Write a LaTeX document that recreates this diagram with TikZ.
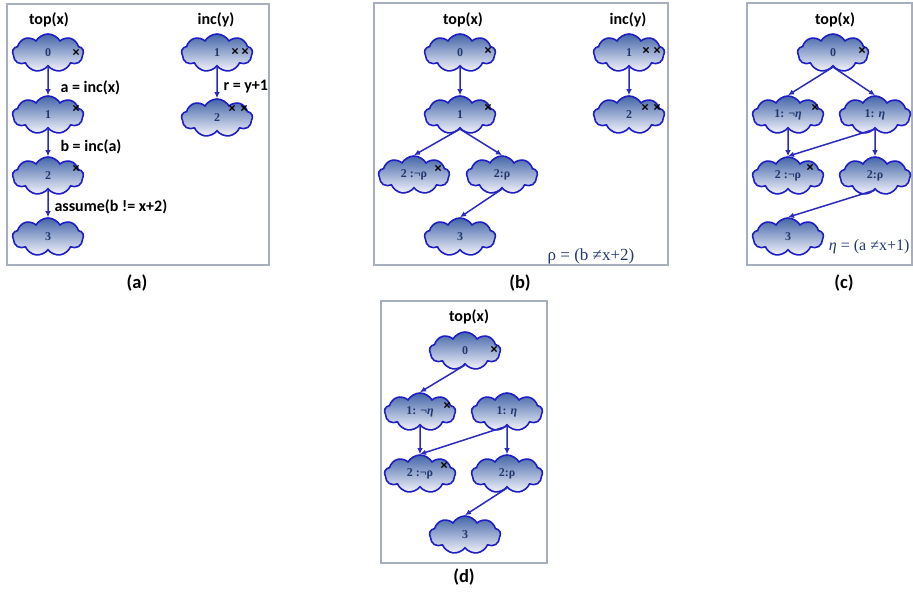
\documentclass[tikz,border=0pt]{standalone}
\usepackage{fontspec}
\usetikzlibrary{shapes.symbols,arrows.meta}
\newfontfamily\lblfont{Carlito}
\newfontfamily\serfont{Liberation Serif}
\definecolor{cloudtop}{HTML}{4466A8}
\definecolor{cloudbot}{HTML}{F4F4FC}
\definecolor{cloudedge}{HTML}{1E1EC4}
\definecolor{arrowblue}{HTML}{2A2AC0}
\definecolor{navy}{HTML}{22386E}
\definecolor{framegray}{HTML}{A7AEBD}
\tikzset{
  cloudnode/.style={cloud, cloud puffs=9, cloud puff arc=120, cloud ignores aspect,
    minimum width=71pt, minimum height=38pt, inner sep=0pt,
    draw=cloudedge, line width=1.6pt, top color=cloudtop, bottom color=cloudbot,
    font=\serfont\bfseries\fontsize{12}{14}\selectfont, text=navy},
  flow/.style={draw=arrowblue, line width=1.5pt, -{Latex[length=6pt,width=5.5pt]}},
  title/.style={font=\lblfont\bfseries\fontsize{16}{18}\selectfont},
  edgelabel/.style={font=\lblfont\bfseries\fontsize{16}{18}\selectfont, anchor=west},
  caption/.style={font=\lblfont\bfseries\fontsize{18.5}{20}\selectfont},
  defn/.style={font=\serfont\fontsize{17}{19}\selectfont, text=navy},
  panel/.style={draw=framegray, line width=1.5pt},
  kill/.pic={\draw[line width=1.2pt, black] (-2.6,-2.6) -- (2.6,2.6) (-2.6,2.6) -- (2.6,-2.6);}
}
\begin{document}
\begin{tikzpicture}[x=1pt, y=-1pt]
\useasboundingbox (0,0) rectangle (913,593);

% ---------- (a) ----------
\draw[panel] (7,4) rectangle (269,265);
\node[title] (ta) at (49,20) {top(x)};
\node[title] (tia) at (216,20) {inc(y)};
\node[cloudnode] (a0) at (48,53) {0};
\node[cloudnode] (a1) at (48,115) {1};
\node[cloudnode] (a2) at (48,176) {2};
\node[cloudnode] (a3) at (48,237) {3};
\node[cloudnode] (ai1) at (217,53) {1};
\node[cloudnode] (ai2) at (217,118) {2};
\pic at (76,52) {kill};
\pic at (76,108) {kill};
\pic at (76,168) {kill};
\pic at (235,51) {kill};
\pic at (245,51) {kill};
\pic at (232,108) {kill};
\pic at (244,108) {kill};
\draw[flow] (a0) -- (a1);
\draw[flow] (a1) -- (a2);
\draw[flow] (a2) -- (a3);
\draw[flow] (ai1) -- (ai2);
\node[edgelabel] (la1) at (57,88) {a = inc(x)};
\node[edgelabel] (la2) at (57,147) {b = inc(a)};
\node[edgelabel] (la3) at (51,207) {assume(b != x+2)};
\node[edgelabel] (lai) at (220,87) {r = y+1};
\node[caption] (capa) at (137,283) {(a)};

% ---------- (b) ----------
\draw[panel] (374,3) rectangle (668,265);
\node[title] (tb) at (463,20) {top(x)};
\node[title] (tib) at (628,20) {inc(y)};
\node[cloudnode] (b0) at (460,53) {0};
\node[cloudnode] (b1) at (460,115) {1};
\node[cloudnode] (b2n) at (414,175) {2 :¬ρ};
\node[cloudnode] (b2p) at (502,175) {2:ρ};
\node[cloudnode] (b3) at (460,237) {3};
\node[cloudnode] (bi1) at (629,53) {1};
\node[cloudnode] (bi2) at (629,115) {2};
\pic at (488,50) {kill};
\pic at (488,107) {kill};
\pic at (438,168) {kill};
\pic at (646,50) {kill};
\pic at (657,50) {kill};
\pic at (645,107) {kill};
\pic at (657,107) {kill};
\draw[flow] (b0.south) -- (b1.north);
\draw[flow] (b1.south) -- (b2n.north);
\draw[flow] (b1.south) -- (b2p.north);
\draw[flow] (b2p.south) -- (b3.north);
\draw[flow] (bi1.south) -- (bi2.north);
\node[defn] (rho) at (591,256) {ρ = (b ≠x+2)};
\node[caption] (capb) at (520,283) {(b)};

% ---------- (c) ----------
\draw[panel] (747,3) rectangle (912,265);
\node[title] (tc) at (835,20) {top(x)};
\node[cloudnode] (c0) at (833,53) {0};
\node[cloudnode] (c1n) at (788,115) {1: ¬\textit{η}};
\node[cloudnode] (c1p) at (875,115) {1: \textit{η}};
\node[cloudnode] (c2n) at (788,176) {2 :¬ρ};
\node[cloudnode] (c2p) at (875,176) {2:ρ};
\node[cloudnode] (c3) at (788,237) {3};
\pic at (862,50) {kill};
\pic at (815,107) {kill};
\pic at (810,167) {kill};
\draw[flow] (c0.south) -- (c1n.north);
\draw[flow] (c0.south) -- (c1p.north);
\draw[flow] (c1n.south) -- (c2n.north);
\draw[flow] (c1p.south) -- (c2n.north);
\draw[flow] (c1p.south) -- (c2p.north);
\draw[flow] (c2p.south) -- (c3.north);
\node[defn, font=\serfont\fontsize{16}{18}\selectfont, anchor=east] (eta) at (913,247) {\textit{η} = (a ≠x+1)};
\node[caption] (capc) at (844,283) {(c)};

% ---------- (d) ----------
\draw[panel] (381,301) rectangle (547,563);
\node[title] (td) at (469,317) {top(x)};
\node[cloudnode] (d0) at (465,351) {0};
\node[cloudnode] (d1n) at (420,412) {1: ¬\textit{η}};
\node[cloudnode] (d1p) at (507,412) {1: \textit{η}};
\node[cloudnode] (d2n) at (420,474) {2 :¬ρ};
\node[cloudnode] (d2p) at (507,474) {2:ρ};
\node[cloudnode] (d3) at (465,535) {3};
\pic at (494,349) {kill};
\pic at (447,405) {kill};
\pic at (444,465) {kill};
\draw[flow] (d0.south) -- (d1n.north);
\draw[flow] (d1n.south) -- (d2n.north);
\draw[flow] (d1p.south) -- (d2n.north);
\draw[flow] (d1p.south) -- (d2p.north);
\draw[flow] (d2p.south) -- (d3.north);
\node[caption] (capd) at (464,577) {(d)};
\end{tikzpicture}
\end{document}
